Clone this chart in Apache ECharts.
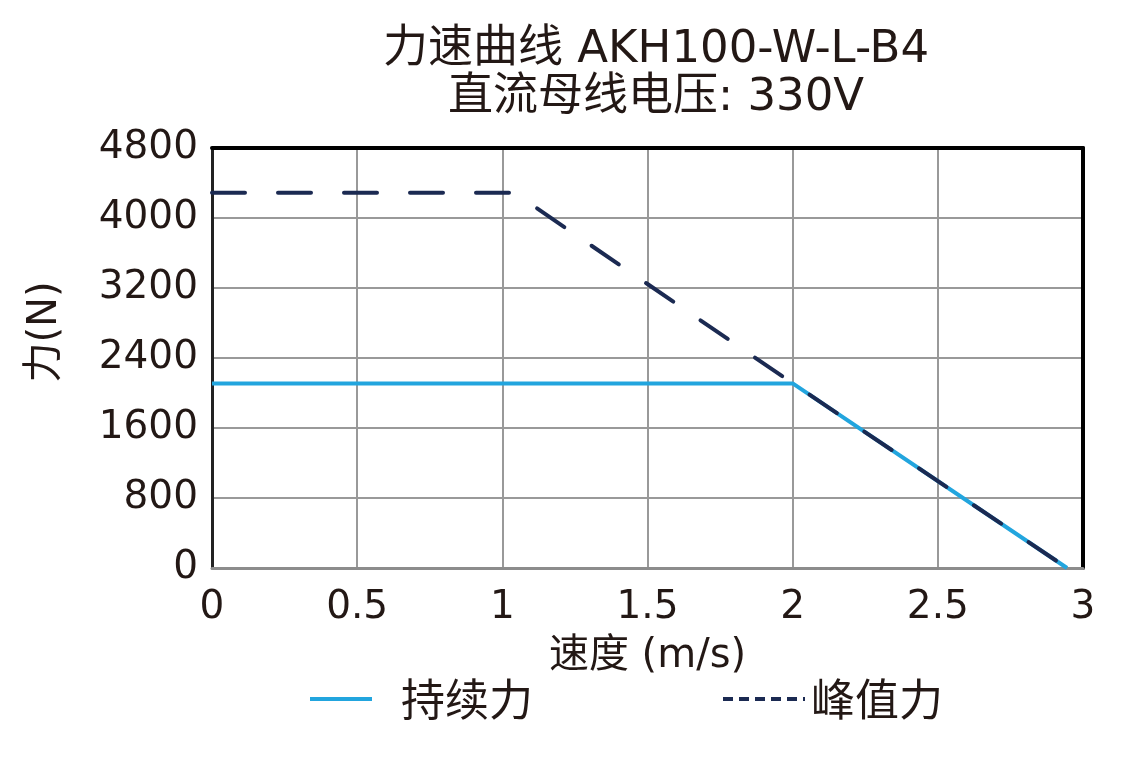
<!DOCTYPE html>
<html>
<head>
<meta charset="utf-8">
<script src="https://cdn.jsdelivr.net/npm/echarts@6/dist/echarts.min.js"></script>
<style>
  html, body { margin: 0; padding: 0; background: #fff; }
  #chart { width: 1137px; height: 757px; }
</style>
</head>
<body>
<div id="chart"></div>
<script>
// 力速曲线数据 (速度 m/s, 力 N)
const titleLines = ['力速曲线 AKH100-W-L-B4', '直流母线电压: 330V'];
const xTicks = [0, 0.5, 1, 1.5, 2, 2.5, 3];
const yTicks = [0, 800, 1600, 2400, 3200, 4000, 4800];
const continuousForce = [[0, 2110], [2.0, 2110], [2.945, 0]];
const peakForce = [[0, 4290], [1.04, 4290], [2.0, 2110], [2.945, 0]];
const seriesNames = ['持续力', '峰值力'];

const FONT = '"DejaVu Sans", "Noto Sans CJK SC", sans-serif';
const CJK_FONT = '"Noto Sans CJK SC", sans-serif';
const TEXT_COLOR = '#231815';
const BLUE = '#22a5de';
const NAVY = '#1b2a52';

const chart = echarts.init(document.getElementById('chart'));

// 辅助坐标轴：只画边框
function frameAxis(position, color, width) {
    return {
        type: 'value',
        position: position,
        min: 0,
        max: position === 'top' ? xTicks[xTicks.length - 1] : yTicks[yTicks.length - 1],
        axisLine: { show: true, onZero: false, lineStyle: { color: color, width: width } },
        axisTick: { show: false },
        axisLabel: { show: false },
        splitLine: { show: false }
    };
}

const option = {
    backgroundColor: '#fff',
    animation: false,
    textStyle: { fontFamily: FONT, color: TEXT_COLOR },
    title: {
        text: titleLines.join('\n'),
        left: 651,
        top: 21,
        textAlign: 'center',
        textStyle: {
            fontFamily: FONT,
            fontSize: 45,
            fontWeight: 'normal',
            color: TEXT_COLOR,
            lineHeight: 48
        }
    },
    legend: [
        {
            left: 303,
            top: 672,
            itemWidth: 62,
            itemHeight: 12,
            data: [seriesNames[0]],
            lineStyle: { width: 4 },
            itemStyle: { opacity: 0 },
            textStyle: { fontFamily: CJK_FONT, fontSize: 44, color: TEXT_COLOR, padding: [0, 0, 0, 24] }
        },
        {
            left: 716,
            top: 672,
            itemWidth: 82,
            itemHeight: 12,
            data: [seriesNames[1]],
            lineStyle: { width: 4, type: [10, 6], cap: 'butt' },
            itemStyle: { opacity: 0 },
            textStyle: { fontFamily: CJK_FONT, fontSize: 44, color: TEXT_COLOR, padding: [0, 0, 0, 1] }
        }
    ],
    grid: {
        left: 212,
        right: 54,
        top: 148,
        bottom: 189,
        containLabel: false
    },
    xAxis: [
        {
            type: 'value',
            min: xTicks[0],
            max: xTicks[xTicks.length - 1],
            interval: 0.5,
            name: '速度 (m/s)',
            nameLocation: 'middle',
            nameGap: 69,
            nameTextStyle: { fontFamily: FONT, fontSize: 40, color: TEXT_COLOR },
            axisLine: { show: true, onZero: false, lineStyle: { color: '#8c8c8c', width: 3 } },
            axisTick: { show: false },
            axisLabel: {
                fontFamily: FONT, fontSize: 39, color: TEXT_COLOR, margin: 20,
                formatter: v => String(v)
            },
            splitLine: { show: true, lineStyle: { color: '#999', width: 2 } }
        },
        frameAxis('top', '#000', 4)
    ],
    yAxis: [
        {
            type: 'value',
            min: yTicks[0],
            max: yTicks[yTicks.length - 1],
            interval: 800,
            name: '力(N)',
            nameLocation: 'middle',
            nameGap: 146,
            nameRotate: 90,
            nameTextStyle: { fontFamily: FONT, fontSize: 40, color: TEXT_COLOR, padding: [0, 0, 0, 52] },
            axisLine: { show: true, onZero: false, lineStyle: { color: '#222', width: 3 } },
            axisTick: { show: false },
            axisLabel: {
                fontFamily: FONT, fontSize: 39, color: TEXT_COLOR, margin: 14,
                formatter: v => String(v)
            },
            splitLine: { show: true, lineStyle: { color: '#999', width: 2 } }
        },
        frameAxis('right', '#000', 4)
    ],
    series: [
        {
            name: seriesNames[0],
            type: 'line',
            data: continuousForce,
            symbol: 'none',
            z: 2,
            lineStyle: { color: BLUE, width: 4 },
            itemStyle: { color: BLUE }
        },
        {
            name: seriesNames[1],
            type: 'line',
            data: peakForce,
            symbol: 'none',
            z: 3,
            lineStyle: { color: NAVY, width: 4, type: [33, 33], cap: 'round' },
            itemStyle: { color: NAVY }
        }
    ]
};

chart.setOption(option);
window.addEventListener('resize', () => chart.resize());
</script>
</body>
</html>
